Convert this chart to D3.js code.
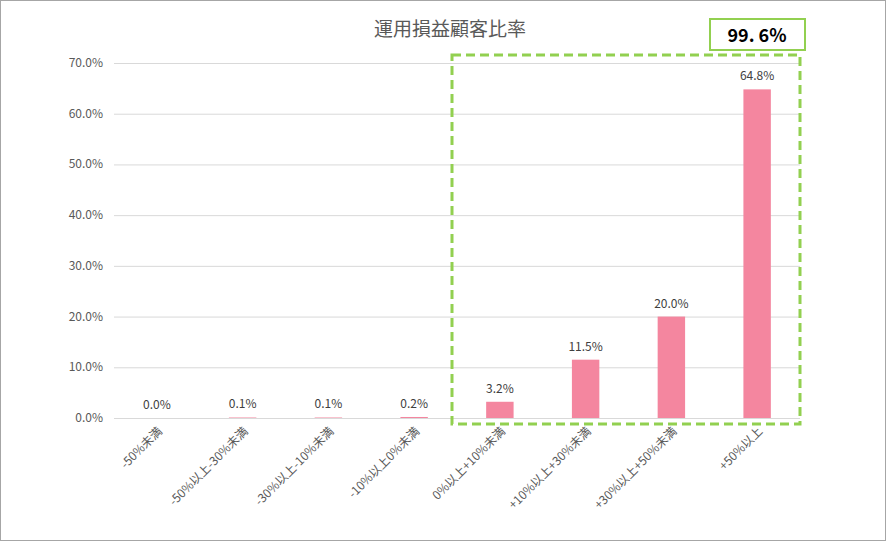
<!DOCTYPE html>
<html><head><meta charset="utf-8">
<script src="https://cdn.jsdelivr.net/npm/d3@7"></script>
<style>body{margin:0;background:#fff}svg{display:block;font-family:"Noto Sans CJK JP","Noto Sans",sans-serif}</style>
</head><body>
<svg id="chart" width="886" height="541"></svg>
<script>
const categories = ["-50%未満","-50%以上-30%未満","-30%以上-10%未満","-10%以上0%未満","0%以上+10%未満","+10%以上+30%未満","+30%以上+50%未満","+50%以上"]
const values = [0.0, 0.1, 0.1, 0.2, 3.2, 11.5, 20.0, 64.8]
const yTicks = [0, 10, 20, 30, 40, 50, 60, 70]
const totalLabel = "99. 6%"

const svg = d3.select("#chart")
svg.append("rect").attr("x", 0.5).attr("y", 0.5).attr("width", 885).attr("height", 540)
   .attr("fill", "#fff").attr("stroke", "#a6a6a6")

const x = d3.scaleBand().domain(categories).range([114, 800]).paddingInner(0.68).paddingOuter(0.34)
const y = d3.scaleLinear().domain([0, 70]).range([418, 63])

svg.append("text").attr("x", 450).attr("y", 36).attr("text-anchor", "middle")
   .attr("font-size", 19).attr("fill", "#595959").text("運用損益顧客比率")

svg.append("g").selectAll("line").data(yTicks).join("line")
   .attr("x1", 114).attr("x2", 800).attr("y1", d => y(d) + 0.5).attr("y2", d => y(d) + 0.5)
   .attr("stroke", "#d9d9d9")

svg.append("g").selectAll("text").data(yTicks).join("text")
   .attr("x", 103).attr("y", d => y(d) + 4).attr("text-anchor", "end")
   .attr("font-size", 12).attr("fill", "#595959").text(d => d.toFixed(1) + "%")

svg.append("g").selectAll("rect").data(values).join("rect")
   .attr("x", (d, i) => x(categories[i])).attr("width", x.bandwidth())
   .attr("y", d => y(d)).attr("height", d => y(0) - y(d)).attr("fill", "#f4869f")

svg.append("g").selectAll("text").data(values).join("text")
   .attr("x", (d, i) => x(categories[i]) + x.bandwidth() / 2).attr("y", d => y(d) - 9)
   .attr("text-anchor", "middle").attr("font-size", 12).attr("fill", "#404040")
   .text(d => d.toFixed(1) + "%")

svg.append("g").selectAll("text").data(categories).join("text")
   .attr("transform", d => `translate(${x(d) + x.bandwidth() / 2 + 6},${432}) rotate(-45)`)
   .attr("text-anchor", "end").attr("font-size", 12).attr("fill", "#595959").text(d => d)

svg.append("rect").attr("x", 452).attr("y", 55).attr("width", 348).attr("height", 369)
   .attr("fill", "none").attr("stroke", "#92d050").attr("stroke-width", 3).attr("stroke-dasharray", "9,5")

svg.append("rect").attr("x", 710).attr("y", 19).attr("width", 95).attr("height", 31)
   .attr("fill", "#fff").attr("stroke", "#92d050").attr("stroke-width", 2)
svg.append("text").attr("x", 757).attr("y", 42).attr("text-anchor", "middle")
   .attr("font-size", 18).attr("font-weight", "bold").attr("fill", "#000").text(totalLabel)
</script>
</body></html>
